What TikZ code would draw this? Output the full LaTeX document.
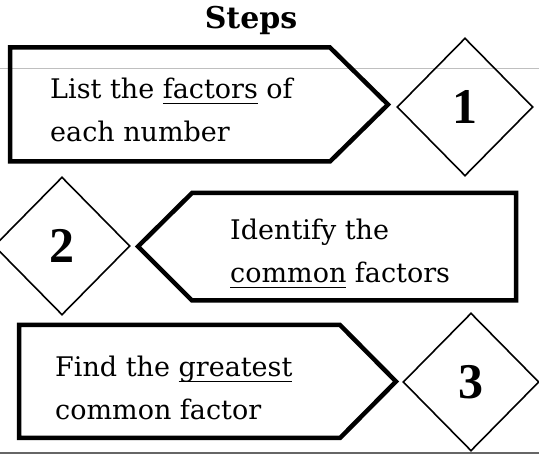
\documentclass[tikz,border=0pt]{standalone}
\usepackage{fontspec}
\setmainfont{DejaVu Serif}
\newfontfamily\digitfont{Liberation Serif}
\usetikzlibrary{shapes.geometric}
\newcommand{\undl}[1]{\setbox0\hbox{#1}\rlap{\rule[-5.5pt]{\wd0}{1.3pt}}\box0\relax}
\tikzset{
  arrowbox/.style={line width=4.5pt, line join=miter},
  stepmark/.style={diamond, draw, line width=1.6pt, minimum width=136pt,
    minimum height=138pt, inner sep=0pt,
    font=\digitfont\bfseries\fontsize{50}{50}\selectfont},
  steptext/.style={anchor=base west, align=left, inner sep=0pt,
    font=\fontsize{27}{43}\selectfont},
}
\begin{document}
\begin{tikzpicture}[x=1pt,y=-1pt]
\useasboundingbox (0,0) rectangle (539,454);
% scan lines
\draw [black!25, line width=0.8pt] (0,68) -- (539,68);
\draw [black!60, line width=2.5pt] (0,453) -- (539,453);
\node (title) [anchor=base, font=\bfseries\fontsize{30}{30}\selectfont] at (251,28.5) {Steps};
% step 1
\draw [arrowbox] (10,47.5) -- (330,47.5) -- (388,104.5) -- (330,161.5) -- (10,161.5) -- cycle;
\node (list) [steptext] at (50,142) {List the \undl{factors} of\\each number};
\node (one) [stepmark] at (465,107) {1};
% step 2
\draw [arrowbox] (516,193) -- (192,193) -- (138,246.5) -- (192,300.5) -- (516,300.5) -- cycle;
\node (identify) [steptext] at (230,283) {Identify the\\\undl{common} factors};
\node (two) [stepmark] at (62,246) {2};
% step 3
\draw [arrowbox] (19,325) -- (340,325) -- (396,381.5) -- (340,438) -- (19,438) -- cycle;
\node (find) [steptext] at (55,420) {Find the \undl{greatest}\\common factor};
\node (three) [stepmark] at (471,382) {3};
\end{tikzpicture}
\end{document}
